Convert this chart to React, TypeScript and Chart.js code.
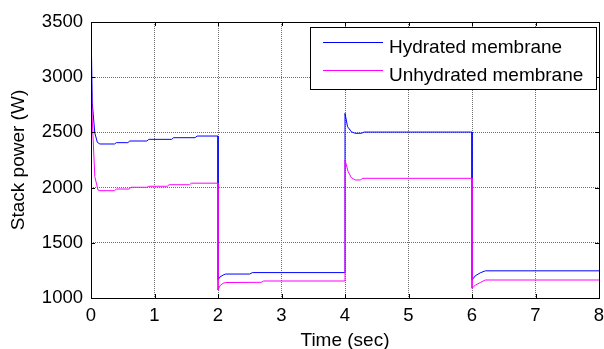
import React, { useEffect, useRef } from "react";
import { Chart, registerables } from "chart.js";

Chart.register(...registerables);

const xTicks = [0, 1, 2, 3, 4, 5, 6, 7, 8];
const yTicks = [1000, 1500, 2000, 2500, 3000, 3500];

const hydratedTime = [
  0, 0.02, 0.06, 0.1, 0.14, 0.37, 0.4, 0.58, 0.61, 0.88, 0.91, 1.27, 1.3, 1.64, 1.67, 2.0,
  2.0, 2.03, 2.08, 2.12, 2.5, 2.54, 4.0,
  4.0, 4.04, 4.1, 4.16, 4.26, 4.3, 6.0,
  6.0, 6.05, 6.13, 6.21, 8.0,
];
const hydratedPower = [
  3500, 2766, 2495, 2410, 2395, 2395, 2407, 2407, 2422, 2422, 2437, 2437, 2452, 2452, 2467, 2467,
  1163, 1190, 1208, 1217, 1217, 1230, 1230,
  2673, 2552, 2506, 2492, 2492, 2503, 2503,
  1163, 1200, 1228, 1246, 1246,
];

const unhydratedTime = [
  0, 0.02, 0.06, 0.11, 0.14, 0.37, 0.4, 0.6, 0.63, 0.88, 0.91, 1.2, 1.23, 1.55, 1.58, 2.0,
  2.0, 2.03, 2.08, 2.12, 2.68, 2.72, 4.0,
  4.0, 4.05, 4.1, 4.16, 4.24, 4.28, 6.0,
  6.0, 6.05, 6.13, 6.21, 8.0,
];
const unhydratedPower = [
  3095, 2612, 2099, 1978, 1972, 1972, 1987, 1987, 2003, 2003, 2012, 2012, 2026, 2026, 2040, 2040,
  1072, 1110, 1133, 1140, 1142, 1154, 1154,
  2250, 2144, 2090, 2069, 2069, 2084, 2084,
  1088, 1115, 1140, 1163, 1163,
];

const seriesLabels = ["Hydrated membrane", "Unhydrated membrane"];
const seriesColors = ["#0000ff", "#ff00ff"];

const FONT = "'Liberation Sans', Arial, sans-serif";

const frame = {
  id: "frame",
  afterDatasetsDraw(chart: any) {
    const { ctx, chartArea } = chart;
    const { left, right, top, bottom } = chartArea;
    const xs = chart.scales.x;
    const ys = chart.scales.y;
    ctx.save();
    ctx.strokeStyle = "#000";
    ctx.lineWidth = 1;
    ctx.beginPath();
    const t = 4;
    xTicks.forEach((v) => {
      const px = Math.round(xs.getPixelForValue(v)) + 0.5;
      ctx.moveTo(px, bottom);
      ctx.lineTo(px, bottom - t);
      ctx.moveTo(px, top);
      ctx.lineTo(px, top + t);
    });
    yTicks.forEach((v) => {
      const py = Math.round(ys.getPixelForValue(v)) + 0.5;
      ctx.moveTo(left, py);
      ctx.lineTo(left + t, py);
      ctx.moveTo(right, py);
      ctx.lineTo(right - t, py);
    });
    ctx.stroke();
    ctx.strokeRect(Math.round(left) + 0.5, Math.round(top) + 0.5, Math.round(right - left), Math.round(bottom - top));

    // legend
    const lx = 310.5, ly = 27.5, lw = 286, lh = 62;
    ctx.fillStyle = "#fff";
    ctx.fillRect(lx, ly, lw, lh);
    ctx.strokeRect(lx, ly, lw, lh);
    const rows = [42.5, 70.5];
    const baselines = [52.5, 81];
    ctx.font = `19px ${FONT}`;
    ctx.textBaseline = "alphabetic";
    ctx.textAlign = "left";
    seriesLabels.forEach((lab, i) => {
      ctx.strokeStyle = seriesColors[i];
      ctx.beginPath();
      ctx.moveTo(323, rows[i]);
      ctx.lineTo(383, rows[i]);
      ctx.stroke();
      ctx.fillStyle = "#000";
      ctx.fillText(lab, 389, baselines[i]);
    });
    ctx.restore();
  },
};

export default function App() {
  const ref = useRef<HTMLCanvasElement | null>(null);
  useEffect(() => {
    if (!ref.current) return;
    const chart = new Chart(ref.current, {
      type: "line",
      data: {
        datasets: [
          {
            label: seriesLabels[0],
            data: hydratedTime.map((t, i) => ({ x: t, y: hydratedPower[i] })),
            borderColor: seriesColors[0],
            borderWidth: 1,
            pointRadius: 0,
            tension: 0,
            order: 1,
          },
          {
            label: seriesLabels[1],
            data: unhydratedTime.map((t, i) => ({ x: t, y: unhydratedPower[i] })),
            borderColor: seriesColors[1],
            borderWidth: 1,
            pointRadius: 0,
            tension: 0,
            order: 0,
          },
        ],
      },
      options: {
        responsive: false,
        animation: false,
        layout: { padding: { top: 22, right: 5, left: 0, bottom: 0 } },
        plugins: { legend: { display: false }, tooltip: { enabled: false } },
        scales: {
          x: {
            type: "linear",
            min: 0,
            max: 8,
            afterBuildTicks: (s: any) => {
              s.ticks = xTicks.map((v) => ({ value: v }));
            },
            afterFit: (s: any) => {
              s.height = 51;
              s.paddingLeft = 0;
              s.paddingRight = 0;
            },
            ticks: {
              color: "#000",
              padding: 7,
              font: { family: FONT, size: 18.5 },
              callback: (v: any) => String(v),
            },
            grid: { color: "#707070", drawTicks: false, lineWidth: 1 },
            border: { display: false, dash: [1, 1] },
            title: {
              display: true,
              text: "Time (sec)",
              color: "#000",
              font: { family: FONT, size: 19 },
              padding: { top: 0, bottom: -3.4 },
            },
          },
          y: {
            type: "linear",
            min: 1000,
            max: 3500,
            afterBuildTicks: (s: any) => {
              s.ticks = yTicks.map((v) => ({ value: v }));
            },
            afterFit: (s: any) => {
              s.width = 91;
              s.paddingTop = 0;
              s.paddingBottom = 0;
            },
            ticks: {
              color: "#000",
              padding: 8,
              font: { family: FONT, size: 18.5 },
              callback: (v: any) => String(v),
            },
            grid: { color: "#707070", drawTicks: false, lineWidth: 1 },
            border: { display: false, dash: [1, 1] },
            title: {
              display: true,
              text: "Stack power (W)",
              color: "#000",
              font: { family: FONT, size: 19 },
              padding: { top: 7.6, bottom: 0 },
            },
          },
        },
      },
      plugins: [frame],
    });
    return () => chart.destroy();
  }, []);
  return (
    <canvas
      ref={ref}
      width={604}
      height={349}
      style={{ position: "fixed", left: 0, top: 0, display: "block", width: 604, height: 349 }}
    />
  );
}
